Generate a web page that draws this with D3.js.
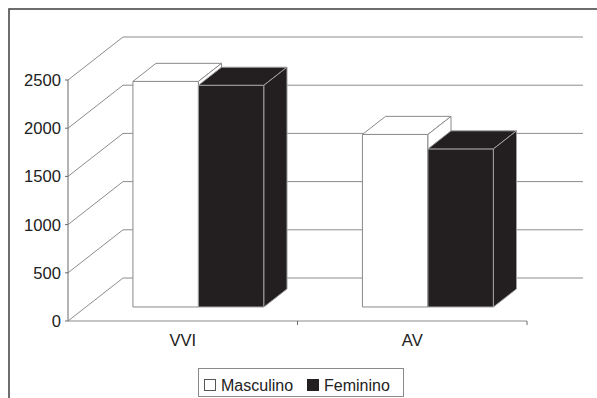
<!DOCTYPE html>
<html>
<head>
<meta charset="utf-8">
<script src="https://cdn.jsdelivr.net/npm/d3@7/dist/d3.min.js"></script>
<style>
  html, body { margin: 0; padding: 0; background: #fff; }
  svg { display: block; font-family: "Liberation Sans", Arial, sans-serif; }
</style>
</head>
<body>
<svg id="chart" width="597" height="398"></svg>
<script>
// Categories, series and values
const categories = ["VVI", "AV"];
const seriesNames = ["Masculino", "Feminino"];
const masculino = [2340, 1790];
const feminino = [2300, 1640];
const yTicks = [0, 500, 1000, 1500, 2000, 2500];

const seriesValues = [masculino, feminino];
const seriesFill = ["#ffffff", "#231f20"];
const seriesStroke = ["#8a8a8a", "#a0a0a0"];

const svg = d3.select("#chart");

// Plot geometry (front plane of the 3D box)
const plotLeft = 68, plotRight = 527, plotBottom = 321, plotTop = 80;
const wallDx = 55, wallDy = -43;          // depth of the back wall
const barShift = 0.326;                    // bar front plane inside the depth
const barDepth = 0.42;                     // bar depth as fraction of wall depth

const y = d3.scaleLinear().domain([0, 2500]).range([plotBottom, plotTop]);
const x0 = d3.scaleBand().domain(categories).range([plotLeft, plotRight]).padding(0);
const x1 = d3.scaleBand().domain(seriesNames).range([47, 178]).padding(0);

const pts = arr => arr.map(p => p.join(",")).join(" ");

// Outer frame
svg.append("rect")
  .attr("x", 9).attr("y", 9).attr("width", 620).attr("height", 420)
  .attr("fill", "none").attr("stroke", "#4a4a4a").attr("stroke-width", 1.6);

// Gridlines: diagonal on the side wall, horizontal on the back wall
const grid = svg.append("g").attr("fill", "none").attr("stroke", "#8c8c8c").attr("stroke-width", 1);
yTicks.forEach(v => {
  const yy = y(v);
  grid.append("polyline")
    .attr("points", pts([[plotLeft, yy], [plotLeft + wallDx, yy + wallDy], [plotRight + wallDx + 1, yy + wallDy]]));
});

// Value axis
svg.append("line")
  .attr("x1", plotLeft).attr("x2", plotLeft).attr("y1", plotTop).attr("y2", plotBottom)
  .attr("stroke", "#6a6a6a").attr("stroke-width", 1);
svg.append("g").selectAll("line").data(yTicks).join("line")
  .attr("x1", plotLeft - 3).attr("x2", plotLeft).attr("y1", d => y(d)).attr("y2", d => y(d))
  .attr("stroke", "#6a6a6a");
svg.append("g").selectAll("text").data(yTicks).join("text")
  .attr("x", 61).attr("y", d => y(d) + 6)
  .attr("text-anchor", "end").attr("font-size", 16.6).attr("fill", "#222")
  .text(d => d);

// Bars (3D blocks)
const sx = wallDx * barShift, sy = wallDy * barShift;
const bdx = wallDx * barDepth, bdy = wallDy * barDepth;
const bars = svg.append("g");
categories.forEach((c, ci) => {
  seriesNames.forEach((s, si) => {
    const v = seriesValues[si][ci];
    const xl = x0(c) + x1(s) + sx;
    const xr = xl + x1.bandwidth();
    const yb = y(0) + sy;
    const yt = y(v) + sy;
    const g = bars.append("g")
      .attr("fill", seriesFill[si]).attr("stroke", seriesStroke[si])
      .attr("stroke-width", 1).attr("stroke-linejoin", "round");
    // front face
    g.append("polygon").attr("points", pts([[xl, yt], [xr, yt], [xr, yb], [xl, yb]]));
    // top face
    g.append("polygon").attr("points", pts([[xl, yt], [xl + bdx, yt + bdy], [xr + bdx, yt + bdy], [xr, yt]]));
    // side face
    g.append("polygon").attr("points", pts([[xr, yt], [xr + bdx, yt + bdy], [xr + bdx, yb + bdy], [xr, yb]]));
  });
});

// Category axis along the front edge of the floor
svg.append("line")
  .attr("x1", plotLeft).attr("x2", plotRight).attr("y1", plotBottom).attr("y2", plotBottom)
  .attr("stroke", "#8c8c8c").attr("stroke-width", 1.2);
const catTicks = categories.map(c => x0(c) + x0.bandwidth());
svg.append("g").selectAll("line").data(catTicks).join("line")
  .attr("x1", d => d).attr("x2", d => d).attr("y1", plotBottom).attr("y2", plotBottom + 4)
  .attr("stroke", "#6a6a6a");
svg.append("g").selectAll("text").data(categories).join("text")
  .attr("x", d => x0(d) + x0.bandwidth() / 2)
  .attr("y", 346)
  .attr("text-anchor", "middle").attr("font-size", 16.6).attr("fill", "#222")
  .text(d => d);

// Legend
const legend = svg.append("g");
legend.append("rect")
  .attr("x", 198.5).attr("y", 368.5).attr("width", 205).attr("height", 28)
  .attr("fill", "#fff").attr("stroke", "#8a8a8a");
const legendX = [204, 307];
seriesNames.forEach((s, i) => {
  legend.append("rect")
    .attr("x", legendX[i] + 0.5).attr("y", 379.5).attr("width", 11).attr("height", 11)
    .attr("fill", seriesFill[i]).attr("stroke", i === 0 ? "#555" : "#231f20");
  legend.append("text")
    .attr("x", legendX[i] + 17).attr("y", 390.5)
    .attr("font-size", 16).attr("fill", "#222")
    .text(s);
});
</script>
</body>
</html>
